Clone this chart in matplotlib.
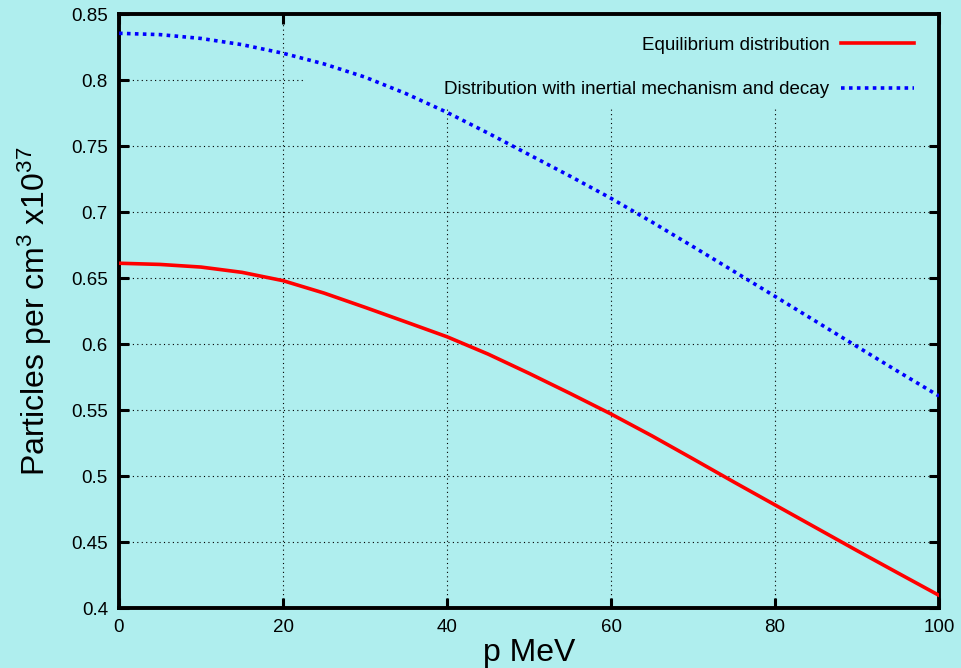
import matplotlib
matplotlib.use('Agg')
import matplotlib.pyplot as plt
from matplotlib.patches import Rectangle

plt.rcParams['font.family'] = ['Liberation Sans', 'DejaVu Sans']
plt.rcParams['mathtext.fontset'] = 'custom'
plt.rcParams['mathtext.rm'] = 'Liberation Sans'
plt.rcParams['mathtext.default'] = 'regular'

# values
p = [0, 5, 10, 15, 20, 25, 30, 35, 40, 45, 50,
     55, 60, 65, 70, 75, 80, 85, 90, 95, 100]
equilibrium = [0.6612, 0.6603, 0.6583, 0.6543, 0.648, 0.6386, 0.6278, 0.6167, 0.6055, 0.5924, 0.5778,
               0.5626, 0.547, 0.5304, 0.513, 0.4954, 0.4781, 0.4608, 0.4435, 0.4265, 0.4096]
inertial = [0.8354, 0.8344, 0.8315, 0.8268, 0.8203, 0.8122, 0.8022, 0.7897, 0.7755, 0.7598, 0.7435,
            0.7272, 0.7104, 0.6924, 0.6738, 0.655, 0.6361, 0.6171, 0.5981, 0.5792, 0.5606]
xticks = [0, 20, 40, 60, 80, 100]
yticks = [0.4, 0.45, 0.5, 0.55, 0.6, 0.65, 0.7, 0.75, 0.8, 0.85]

bg = '#afeeee'
fig = plt.figure(figsize=(9.62, 6.68), dpi=100, facecolor=bg)
ax = fig.add_axes([0.1237, 0.0898, 0.8524, 0.8892])
ax.set_facecolor(bg)

ax.plot(p, equilibrium, color='#ff0000', lw=2.6, label='Equilibrium distribution', zorder=3)
ax.plot(p, inertial, color='#0000ff', lw=2.6, ls=(0, (1, 1.2)),
        label='Distribution with inertial mechanism and decay', zorder=3)

ax.set_xlim(0, 100)
ax.set_ylim(0.4, 0.85)
ax.set_xticks(xticks)
ax.set_xticklabels([str(t) for t in xticks])
ax.set_yticks(yticks)
ax.set_yticklabels(['%g' % t for t in yticks])
ax.grid(True, color='black', ls=(0, (1, 3)), lw=0.8)
ax.tick_params(direction='in', length=7, width=2.2, top=True, right=True,
               labelsize=13.5, pad=8)
for s in ax.spines.values():
    s.set_linewidth(2.8)

# key box hides the grid behind it
ax.add_patch(Rectangle((0.227, 0.843), 0.773, 0.157, transform=ax.transAxes,
                       facecolor=bg, edgecolor='none', zorder=1.8))

ax.set_xlabel('p MeV', fontsize=23, labelpad=1)
ax.set_ylabel('Particles per cm$^3$ x10$^{37}$', fontsize=23, labelpad=12)

leg = ax.legend(loc='upper right', markerfirst=False, fontsize=13.5, handlelength=3.9,
                handletextpad=0.6, frameon=False, labelspacing=1.45,
                bbox_to_anchor=(0.99, 0.99))
for t in leg.get_texts():
    t.set_ha('right')

fig.savefig('out.png', dpi=100, facecolor=bg)
